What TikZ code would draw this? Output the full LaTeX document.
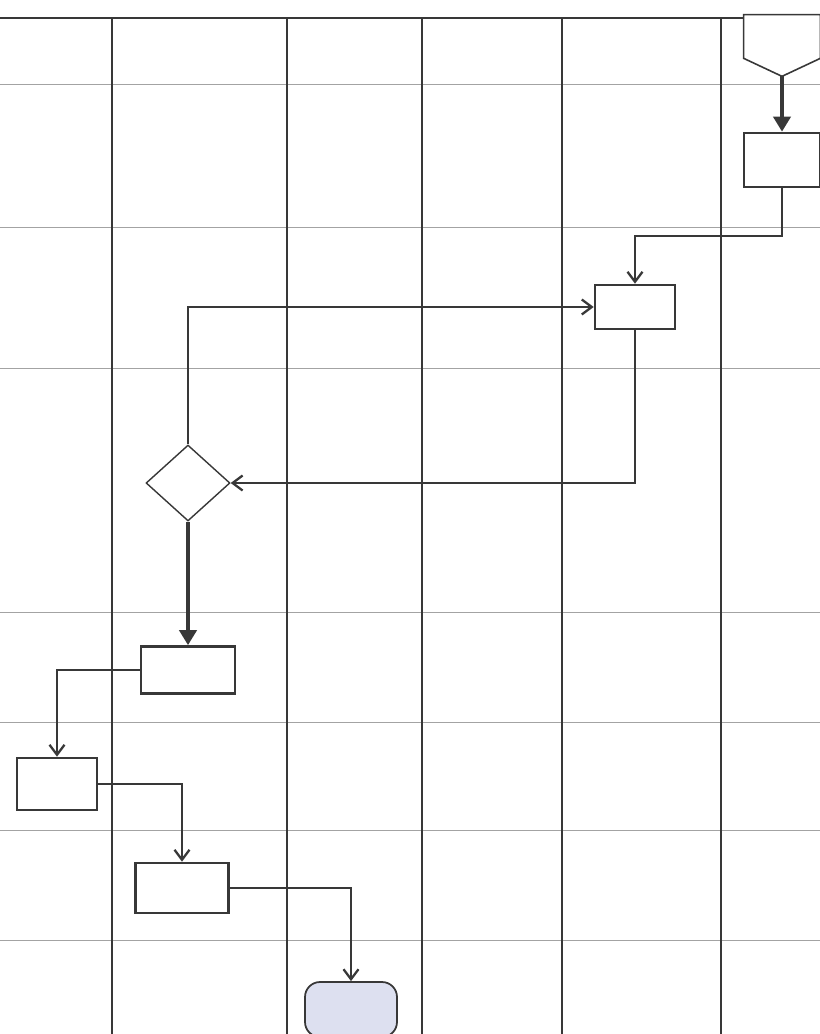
\documentclass[tikz,border=0pt]{standalone}
\usepackage{tikz}
\usepackage{xcolor}
\usetikzlibrary{arrows.meta,positioning,shapes.geometric,calc}
\definecolor{ink}     {HTML}{383838}
\definecolor{rowgray} {HTML}{A3A3A3}
\definecolor{termfill}{HTML}{DDE0F0}
\tikzset{
  procbox/.style  ={draw=ink, fill=white, line width=1.5pt, inner sep=0pt},
  decbox/.style   ={draw=ink, fill=white, diamond, line width=0.8pt, inner sep=0pt,
                    minimum width=1.68cm, minimum height=1.52cm},
  termbox/.style  ={draw=ink, fill=termfill, rounded corners=0.3cm, line width=1.0pt,
                    inner sep=0pt, minimum width=1.84cm, minimum height=1.1cm},
  pagebox/.style  ={inner sep=0pt, minimum width=1.52cm, minimum height=1.22cm},
  pageline/.style ={draw=ink, fill=white, line width=0.9pt},
  lanerule/.style ={draw=ink, line width=1.0pt},
  rowrule/.style  ={draw=rowgray, line width=0.5pt},
  flowarr/.style  ={-{Straight Barb[length=2mm,width=3mm]}, line width=1.3pt, color=ink},
  thickarr/.style ={-{Triangle[length=3mm,width=3.4mm]}, line width=2.6pt, color=ink},
}
\begin{document}
\begin{tikzpicture}[x=0.02cm,y=-0.02cm]
  \useasboundingbox (0,0) rectangle (820,1034);
  \clip (0,0) rectangle (820,1034);
  % swimlane grid
  \foreach \y in {84,227,368,612,722,830,940}
    \draw[rowrule] (0,\y) -- (820,\y);
  \draw[lanerule] (0,18) -- (820,18);
  \foreach \x in {112,287,422,562,721}
    \draw[lanerule] (\x,18) -- (\x,1034);
  % shapes
  \node[pagebox] (start) at (782,45.5) {};
  \draw[pageline] (start.north west) -- (start.north east)
    -- ([yshift=0.36cm]start.south east) -- (start.south)
    -- ([yshift=0.36cm]start.south west) -- cycle;
  \node[procbox,minimum width=1.52cm,minimum height=1.08cm] (b1) at (782,160) {};
  \node[procbox,minimum width=1.6cm,minimum height=0.88cm] (b2) at (635,307) {};
  \node[decbox] (dec) at (188,483) {};
  \node[procbox,minimum width=1.88cm,minimum height=0.94cm] (b3) at (188,670) {};
  \node[procbox,minimum width=1.6cm,minimum height=1.04cm] (b4) at (57,784) {};
  \node[procbox,minimum width=1.86cm,minimum height=1.0cm] (b5) at (182,888) {};
  \node[termbox] (stop) at (351,1009.5) {};
  % connectors
  \draw[thickarr] (start.south) -- (b1.north);
  \draw[flowarr] (b1.south) -- ++(0,48) -| (b2.north);
  \draw[flowarr] (b2.south) |- (dec.east);
  \draw[flowarr] (dec.north) |- (b2.west);
  \draw[thickarr] (dec.south) -- (b3.north);
  \draw[flowarr] (b3.west) -| (b4.north);
  \draw[flowarr] (b4.east) -| (b5.north);
  \draw[flowarr] (b5.east) -| (stop.north);
\end{tikzpicture}
\end{document}
